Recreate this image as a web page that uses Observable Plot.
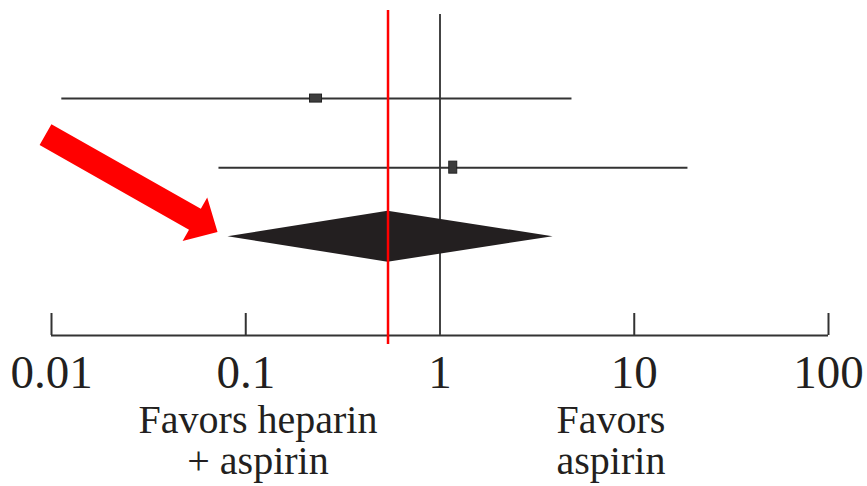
<!DOCTYPE html>
<html>
<head>
<meta charset="utf-8">
<script src="https://cdn.jsdelivr.net/npm/d3@7"></script>
<script src="https://cdn.jsdelivr.net/npm/@observablehq/plot@0.6"></script>
<style>
  html, body { margin: 0; padding: 0; background: white; }
</style>
</head>
<body>
<div id="chart"></div>
<script>
// ---- data ----
const xDomain = [0.01, 100];
const tickValues = [0.01, 0.1, 1, 10, 100];
const tickLabels = ["0.01", "0.1", "1", "10", "100"];

const studyRow = [1, 2];
const studyEst = [0.23, 1.17];
const studyLo = [0.0113, 0.0728];
const studyHi = [4.78, 18.9];

const pooledRow = 3;
const pooledEst = 0.54;
const pooledLo = 0.081;
const pooledHi = 3.82;

const favorText = ["Favors heparin", "+ aspirin", "Favors", "aspirin"];
const favorX = [0.1156, 0.1156, 7.59, 7.59];
const favorRow = [5.65, 6.25, 5.65, 6.25];

// annotation arrow (data coordinates)
const arrowTail = [0.00937, 1.53];
const arrowTip = [0.072, 2.94];

// ---- layout ----
const W = 867, H = 486, mTop = 10, mBottom = 151, mLeft = 51, mRight = 39;
const yDomain = [-0.275, 4.43];
const pxPerRow = (H - mTop - mBottom) / (yDomain[1] - yDomain[0]);
const tickTop = yDomain[1] - 22 / pxPerRow;
const refTop = yDomain[0] + 4 / pxPerRow;
const redBottom = yDomain[1] + 9 / pxPerRow;
const diamondHalf = 25.5 / pxPerRow;

const studies = studyRow.map((r, i) => ({row: r, est: studyEst[i], lo: studyLo[i], hi: studyHi[i]}));
const diamond = [
  {y: pooledRow - diamondHalf, x1: pooledEst, x2: pooledEst},
  {y: pooledRow, x1: pooledLo, x2: pooledHi},
  {y: pooledRow + diamondHalf, x1: pooledEst, x2: pooledEst}
];
const favors = favorText.map((t, i) => ({text: t, x: favorX[i], y: favorRow[i]}));

const ink = "#231f20";
const lineCol = "#333333";

const plot = Plot.plot({
  width: W, height: H,
  marginTop: mTop, marginBottom: mBottom, marginLeft: mLeft, marginRight: mRight,
  x: {type: "log", domain: xDomain},
  y: {domain: yDomain, reverse: true, axis: null},
  style: {fontFamily: "Liberation Serif, DejaVu Serif, serif", background: "white", overflow: "visible"},
  marks: [
    Plot.ruleY([yDomain[1]], {x1: xDomain[0], x2: xDomain[1], stroke: lineCol, strokeWidth: 2}),
    Plot.ruleX(tickValues, {y1: tickTop, y2: yDomain[1], stroke: lineCol, strokeWidth: 2}),
    Plot.axisX({ticks: tickValues, tickSize: 0, tickPadding: 19, fontSize: 47, label: null,
      tickFormat: d => tickLabels[tickValues.indexOf(d)], fill: ink}),
    Plot.ruleX([1], {y1: refTop, y2: yDomain[1], stroke: "#444", strokeWidth: 2}),
    Plot.ruleY(studies, {y: "row", x1: "lo", x2: "hi", stroke: lineCol, strokeWidth: 2}),
    Plot.rect([studies[0]], {x1: "est", x2: "est", y1: "row", y2: "row",
      insetLeft: -6, insetRight: -6, insetTop: -4, insetBottom: -4, fill: "#3d3d3d", stroke: "#222", strokeWidth: 1}),
    Plot.rect([studies[1]], {x1: "est", x2: "est", y1: "row", y2: "row",
      insetLeft: -4, insetRight: -4, insetTop: -6, insetBottom: -6, fill: "#3d3d3d", stroke: "#222", strokeWidth: 1}),
    Plot.areaX(diamond, {y: "y", x1: "x1", x2: "x2", fill: ink}),
    Plot.ruleX([pooledEst], {y1: yDomain[0], y2: redBottom, stroke: "#ff0000", strokeWidth: 2.5}),
    Plot.text(favors, {x: "x", y: "y", text: "text", fontSize: 40, fill: ink, textAnchor: "middle"})
  ]
});

// arrow annotation in pixel space derived from scales
const xs = plot.scale("x"), ys = plot.scale("y");
const t = [xs.apply(arrowTail[0]), ys.apply(arrowTail[1])];
const p = [xs.apply(arrowTip[0]), ys.apply(arrowTip[1])];
const dx = p[0] - t[0], dy = p[1] - t[1], L = Math.hypot(dx, dy);
const ux = dx / L, uy = dy / L, nx = -uy, ny = ux;
const shaftHalf = 12, headLen = 26, headHalf = 25;
const b = [p[0] - ux * headLen, p[1] - uy * headLen];
const pts = [
  [t[0] + nx * shaftHalf, t[1] + ny * shaftHalf],
  [b[0] + nx * shaftHalf, b[1] + ny * shaftHalf],
  [b[0] + nx * headHalf, b[1] + ny * headHalf],
  p,
  [b[0] - nx * headHalf, b[1] - ny * headHalf],
  [b[0] - nx * shaftHalf, b[1] - ny * shaftHalf],
  [t[0] - nx * shaftHalf, t[1] - ny * shaftHalf]
];
d3.select(plot).append("polygon")
  .attr("points", pts.map(q => q.join(",")).join(" "))
  .attr("fill", "#ff0000");

document.getElementById("chart").appendChild(plot);
</script>
</body>
</html>
